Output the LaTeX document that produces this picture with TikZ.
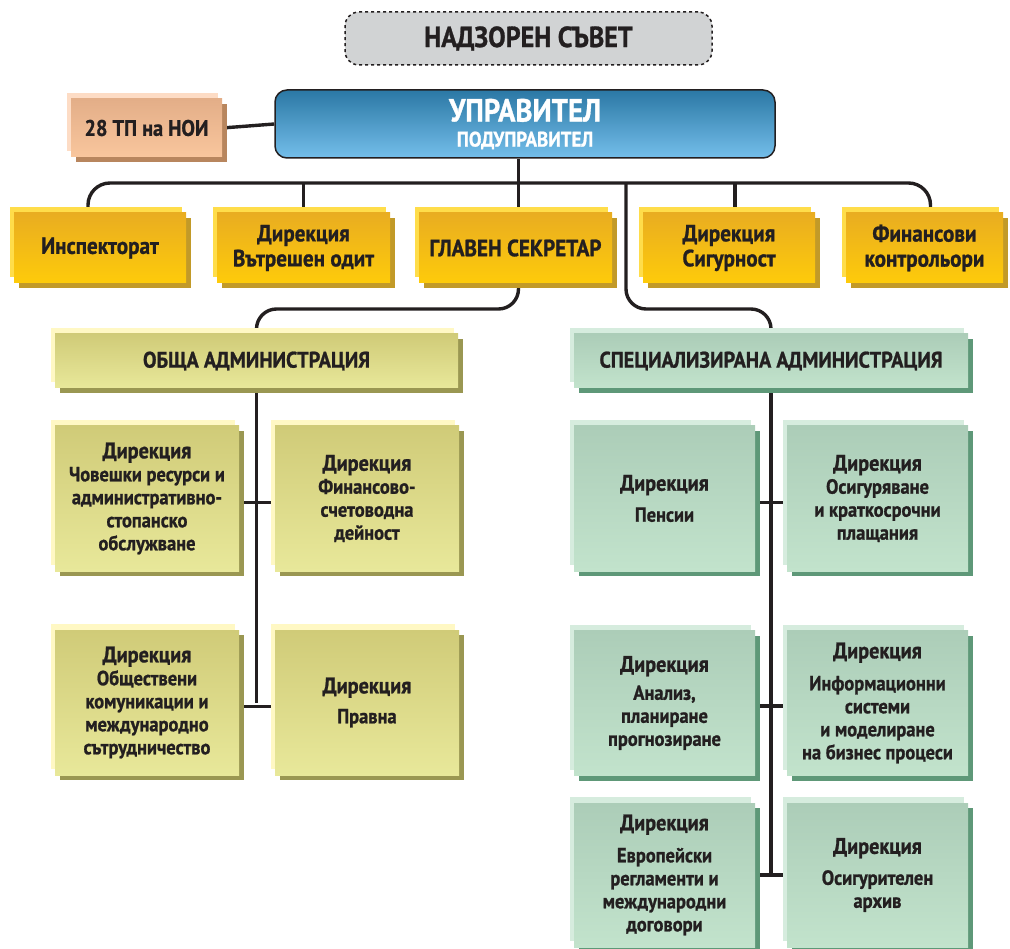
\documentclass[tikz,border=0pt]{standalone}
\usepackage{fontspec}
\setmainfont{PT Sans}[FakeStretch=0.9, BoldFeatures={FakeBold=1}]
\usetikzlibrary{shadows,backgrounds}
\definecolor{txt}{HTML}{231F20}
\definecolor{yhl}{HTML}{FFDD4A}
\definecolor{ytop}{HTML}{E9AD21}
\definecolor{ybot}{HTML}{FECB0A}
\definecolor{ysh}{HTML}{C29A28}
\definecolor{phl}{HTML}{FDDCC5}
\definecolor{ptop}{HTML}{E3AE88}
\definecolor{pbot}{HTML}{F9C69D}
\definecolor{psh}{HTML}{B8865E}
\definecolor{ohl}{HTML}{FFF8C4}
\definecolor{otop}{HTML}{D0CB78}
\definecolor{obot}{HTML}{E8E89A}
\definecolor{osh}{HTML}{9A9752}
\definecolor{ghl}{HTML}{D6ECDE}
\definecolor{gtop}{HTML}{ACCDB8}
\definecolor{gbot}{HTML}{C2E3CC}
\definecolor{gsh}{HTML}{5E9878}
\definecolor{btop}{HTML}{2B78A5}
\definecolor{bbot}{HTML}{74BEEA}
\definecolor{gfill}{HTML}{D1D3D4}
\newcommand\dirk{{\fontsize{22.5}{24}\selectfont Дирекция}}
\tikzset{
  orgbox/.style={rectangle, inner sep=0pt, align=center, text=txt},
  layers/.style n args={4}{general shadow={shadow xshift=-4pt,shadow yshift=6pt,fill=#1},
     general shadow={shadow xshift=5pt,shadow yshift=-5pt,fill=#4},
     top color=#2, bottom color=#3},
  yelbox/.style={orgbox, layers={yhl}{ytop}{ybot}{ysh}, minimum height=70pt,
     font=\fontsize{23.5}{25}\selectfont\bfseries},
  peachbox/.style={orgbox, layers={phl}{ptop}{pbot}{psh},
     font=\fontsize{22.5}{24}\selectfont\bfseries},
  olivebox/.style={orgbox, layers={ohl}{otop}{obot}{osh}, minimum width=184pt, minimum height=145pt,
     font=\fontsize{20.5}{23}\selectfont\bfseries},
  greenbox/.style={orgbox, layers={ghl}{gtop}{gbot}{gsh}, minimum width=181pt, minimum height=145pt,
     font=\fontsize{20.5}{23}\selectfont\bfseries},
  headfont/.style={font=\fontsize{22.5}{24}\selectfont\bfseries},
  conn/.style={draw=txt, line width=3.4pt},
}
\begin{document}
\begin{tikzpicture}[x=1pt,y=-1pt]
\useasboundingbox (0,0) rectangle (1010,949);
% top
\node[orgbox, draw=txt, dashed, line width=1.5pt, rounded corners=14pt, fill=gfill,
  minimum width=367pt, minimum height=53pt, font=\fontsize{29}{30}\selectfont\bfseries]
  (nad) at (528.5,38.5) {НАДЗОРЕН СЪВЕТ};
\node[orgbox, draw=txt, line width=1.5pt, rounded corners=12pt, top color=btop, bottom color=bbot,
  minimum width=500pt, minimum height=68pt, text=white, font=\fontsize{21}{21}\selectfont\bfseries]
  (upr) at (525,124) {{\fontsize{32}{32}\selectfont УПРАВИТЕЛ}\\[4pt]ПОДУПРАВИТЕЛ};
\node[peachbox, minimum width=151pt, minimum height=58pt] (noi) at (146.5,128) {28 ТП на НОИ};
% second row
\node[yelbox, minimum width=172pt] (insp) at (100,248) {Инспекторат};
\node[yelbox, minimum width=173pt] (vo) at (303.5,248) {Дирекция\\Вътрешен одит};
\node[yelbox, minimum width=193pt] (gs) at (515.5,248) {ГЛАВЕН СЕКРЕТАР};
\node[yelbox, minimum width=172pt] (sig) at (729,248) {Дирекция\\Сигурност};
\node[yelbox, minimum width=157pt] (fk) at (924.5,248) {Финансови\\контрольори};
% headers
\node[olivebox, headfont, minimum width=403pt, minimum height=54pt] (obsh) at (256.5,361) {ОБЩА АДМИНИСТРАЦИЯ};
\node[greenbox, headfont, minimum width=394pt, minimum height=54pt] (spec) at (771,361) {СПЕЦИАЛИЗИРАНА АДМИНИСТРАЦИЯ};
% general administration
\node[olivebox] (a1) at (147,498.5) {\dirk\\Човешки ресурси и\\административно-\\стопанско\\обслужване};
\node[olivebox] (a2) at (367,498.5) {\dirk\\Финансово-\\счетоводна\\дейност};
\node[olivebox] (a3) at (147,702.5) {\dirk\\Обществени\\комуникации и\\международно\\сътрудничество};
\node[olivebox] (a4) at (367,702.5) {\dirk\\[7pt]Правна};
% specialised administration
\node[greenbox] (s1) at (664.5,498.5) {\dirk\\[8pt]Пенсии};
\node[greenbox] (s2) at (877.5,498.5) {\dirk\\Осигуряване\\и краткосрочни\\плащания};
\node[greenbox] (s3) at (664.5,703) {\dirk\\[5pt]Анализ,\\планиране\\прогнозиране};
\node[greenbox] (s4) at (877.5,703) {\dirk\\[9pt]Информационни\\системи\\и моделиране\\на бизнес процеси};
\node[greenbox, minimum height=144pt] (s5) at (664.5,875) {\dirk\\[9pt]Европейски\\регламенти и\\международни\\договори};
\node[greenbox, minimum height=144pt] (s6) at (877.5,875) {\dirk\\[8pt]Осигурителен\\архив};
% connectors
\coordinate (bus) at (0,183);
\coordinate (mid) at (0,309);
\coordinate (join) at (626,183);
\begin{scope}[on background layer]
\draw[conn] (noi.east) -- (upr.west);
\draw[conn] ([xshift=3pt]gs.north) -- ([xshift=3pt]gs.north |- upr.south);
\draw[conn, rounded corners=22pt] ([xshift=-12pt]insp.north) -- ([xshift=-12pt]insp.north |- bus)
   -- ([xshift=6pt]fk.north |- bus) -- ([xshift=6pt]fk.north);
\draw[conn] (vo.north) -- (vo.north |- bus);
\draw[conn] ([xshift=6pt]sig.north) -- ([xshift=6pt]sig.north |- bus);
\draw[conn, rounded corners=20pt] ([xshift=3pt]gs.south) -- ([xshift=3pt]gs.south |- mid) -- (obsh.north |- mid) -- (obsh.north);
\draw[conn, rounded corners=20pt] (join) -- (join |- mid) -- (spec.north |- mid) -- (spec.north);
\draw[conn] (obsh.south) -- (obsh.south |- a4.west);
\draw[conn] ([yshift=-4pt]a1.east) -- ([yshift=-4pt]a2.west);
\draw[conn] ([yshift=-4pt]a3.east) -- ([yshift=-4pt]a4.west);
\draw[conn] (spec.south) -- (spec.south |- s6.west);
\draw[conn] ([yshift=-4pt]s1.east) -- ([yshift=-4pt]s2.west);
\draw[conn] ([yshift=-3pt]s3.east) -- ([yshift=-3pt]s4.west);
\draw[conn] (s5.east) -- (s6.west);
\end{scope}
\end{tikzpicture}
\end{document}
